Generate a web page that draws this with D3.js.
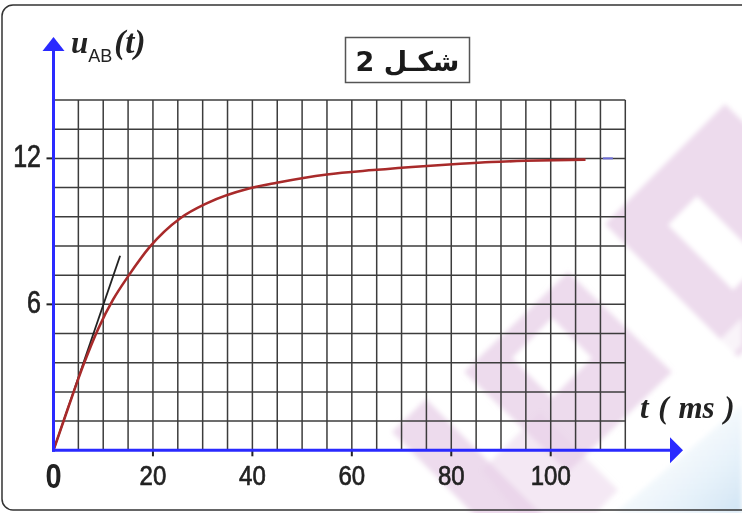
<!DOCTYPE html>
<html>
<head>
<meta charset="utf-8">
<script src="https://cdn.jsdelivr.net/npm/d3@7"></script>
<style>
    body { margin: 0; background: #fff; }
    svg { display: block; }
</style>
</head>
<body>
<svg id="chart"></svg>
<script>
// values
var xTicks = [0, 20, 40, 60, 80, 100];
var yTicks = [6, 12];
var tMax = 115;          // last grid column (ms)
var uMax = 14.4;         // top grid row
var gridStepT = 5;
var gridStepU = 1.2;
var curveT = [0, 3, 6, 9, 12, 15, 19.4, 25.5, 30.8, 39.5, 44.9, 55, 64.3, 75.1, 81.8, 88, 95, 107];
var curveU = [0, 1.78, 3.5, 5.0, 6.2, 7.15, 8.37, 9.54, 10.15, 10.77, 11.0, 11.34, 11.52, 11.69, 11.78, 11.85, 11.9, 11.95];
var tangentT = [0, 13.4];
var tangentU = [0, 8.0];
var asymT = [110.5, 112.5];
var asymU = [12, 12];

var width = 742, height = 513;
var svg = d3.select("#chart").attr("width", width).attr("height", height);

var x = d3.scaleLinear().domain([0, tMax]).range([53.5, 625.3]);
var y = d3.scaleLinear().domain([0, uMax]).range([450.3, 100]);

var blue = "#2a2aff";

draw_background();
draw_grid();
draw_curves();
draw_axes();
draw_labels();

function draw_background() {
    var defs = svg.append("defs");
    var grad = defs.append("linearGradient")
        .attr("id", "blueCorner")
        .attr("x1", "0%").attr("y1", "0%")
        .attr("x2", "100%").attr("y2", "100%");
    grad.append("stop").attr("offset", "0%").style("stop-color", "#ffffff").style("stop-opacity", 0);
    grad.append("stop").attr("offset", "100%").style("stop-color", "#cfe4f4");
    defs.append("filter")
        .attr("id", "soft")
        .append("feGaussianBlur")
        .attr("stdDeviation", 2.5);

    var g = svg.append("g").attr("class", "watermark").attr("filter", "url(#soft)");
    var pink = "#e9d2e9";
    // bottom-right light blue corner
    g.append("path").attr("d", "M742,405 L742,513 L615,513 Z").attr("fill", "url(#blueCorner)");
    // diamond frame in the middle
    g.append("path")
        .attr("d", "M568,272 L672,372 L568,472 L464,372 Z M552,318 L592,358 L552,398 L512,358 Z")
        .attr("fill", pink).attr("fill-rule", "evenodd").attr("opacity", 0.8);
    // lower-left band
    g.append("path")
        .attr("d", "M392,432 L426,399 L575,548 L541,582 Z")
        .attr("fill", pink).attr("opacity", 0.8);
    g.append("path")
        .attr("d", "M482,470 L540,412 L618,490 L596,513 L518,513 Z")
        .attr("fill", pink).attr("opacity", 0.5);
    // top-right frame
    g.append("path")
        .attr("d", "M605,224 L725,104 L860,237 L738,357 Z M668,225 L697,196 L762,261 L733,290 Z")
        .attr("fill", pink).attr("fill-rule", "evenodd").attr("opacity", 0.8);
    // soft white diagonal sheen
    g.append("path")
        .attr("d", "M660,400 L742,318 L742,345 L672,413 Z")
        .attr("fill", "#ffffff").attr("opacity", 0.7);

    // outer frame
    svg.append("rect")
        .attr("x", 2).attr("y", 5)
        .attr("width", 800).attr("height", 505)
        .attr("rx", 11)
        .attr("fill", "none")
        .attr("stroke", "#333")
        .attr("stroke-width", 1.5);
}

function draw_grid() {
    var g = svg.append("g").attr("class", "grid");
    var colsT = d3.range(gridStepT, tMax + 0.01, gridStepT);
    var rowsU = d3.range(1, Math.round(uMax / gridStepU) + 1).map(function (k) { return k * gridStepU; });
    g.selectAll(".vline")
        .data(colsT)
        .enter()
        .append("line")
        .attr("class", "vline")
        .attr("x1", function (d) { return x(d); })
        .attr("x2", function (d) { return x(d); })
        .attr("y1", y(0))
        .attr("y2", y(uMax))
        .attr("stroke", "#3c3c3c")
        .attr("stroke-width", 1.5);
    g.selectAll(".hline")
        .data(rowsU)
        .enter()
        .append("line")
        .attr("class", "hline")
        .attr("x1", x(0))
        .attr("x2", x(tMax))
        .attr("y1", function (d) { return y(d); })
        .attr("y2", function (d) { return y(d); })
        .attr("stroke", "#3c3c3c")
        .attr("stroke-width", 1.5);
}

function draw_curves() {
    var line = d3.line()
        .x(function (d) { return x(d[0]); })
        .y(function (d) { return y(d[1]); });

    svg.append("path")
        .datum(d3.zip(tangentT, tangentU))
        .attr("d", line)
        .attr("fill", "none")
        .attr("stroke", "#222")
        .attr("stroke-width", 1.8);

    svg.append("path")
        .datum(d3.zip(curveT, curveU))
        .attr("d", line.curve(d3.curveMonotoneX))
        .attr("fill", "none")
        .attr("stroke", "#a82a2a")
        .attr("stroke-width", 2.6);

    svg.append("path")
        .datum(d3.zip(asymT, asymU))
        .attr("d", d3.line().x(function (d) { return x(d[0]); }).y(function (d) { return y(d[1]); }))
        .attr("stroke", "#6c6cd8")
        .attr("stroke-width", 2);
}

function draw_axes() {
    var g = svg.append("g").attr("class", "axes");
    // ticks on t axis
    g.selectAll(".xtick")
        .data(xTicks.filter(function (d) { return d > 0; }))
        .enter()
        .append("line")
        .attr("x1", function (d) { return x(d); })
        .attr("x2", function (d) { return x(d); })
        .attr("y1", y(0))
        .attr("y2", y(0) + 6)
        .attr("stroke", "#222")
        .attr("stroke-width", 2);
    // ticks on u axis
    g.selectAll(".ytick")
        .data(yTicks)
        .enter()
        .append("line")
        .attr("x1", x(0) - 7)
        .attr("x2", x(0))
        .attr("y1", function (d) { return y(d); })
        .attr("y2", function (d) { return y(d); })
        .attr("stroke", "#222")
        .attr("stroke-width", 2);

    // axis lines with arrows
    var x0 = x(0), y0 = y(0);
    g.append("line")
        .attr("x1", x0 - 1.5).attr("x2", 672)
        .attr("y1", y0).attr("y2", y0)
        .attr("stroke", blue).attr("stroke-width", 3);
    g.append("path")
        .attr("d", "M670," + (y0 - 13) + " L683," + y0 + " L670," + (y0 + 13) + " Z")
        .attr("fill", blue);
    g.append("line")
        .attr("x1", x0).attr("x2", x0)
        .attr("y1", y0 + 1.5).attr("y2", 50)
        .attr("stroke", blue).attr("stroke-width", 3);
    g.append("path")
        .attr("d", "M" + (x0 - 11) + ",51 L" + x0 + ",37 L" + (x0 + 11) + ",51 Z")
        .attr("fill", blue);
}

function draw_labels() {
    var g = svg.append("g").attr("class", "labels")
        .style("font-family", "'Liberation Sans', Arial, sans-serif")
        .style("fill", "#222");

    g.selectAll(".xlabel")
        .data(xTicks)
        .enter()
        .append("text")
        .attr("transform", function (d) {
            return "translate(" + x(d) + "," + (d === 0 ? 488 : 485) + ") scale(1,1.18)";
        })
        .attr("text-anchor", "middle")
        .style("font-size", function (d) { return d === 0 ? "29px" : "24px"; })
        .style("font-weight", function (d) { return d === 0 ? "bold" : "normal"; })
        .style("stroke", "#222")
        .style("stroke-width", function (d) { return d === 0 ? 0 : 0.6; })
        .text(function (d) { return d; });

    g.selectAll(".ylabel")
        .data(yTicks)
        .enter()
        .append("text")
        .attr("transform", function (d) { return "translate(41," + (y(d) + 9) + ") scale(1,1.22)"; })
        .attr("text-anchor", "end")
        .style("font-size", "25px")
        .style("stroke", "#222")
        .style("stroke-width", 0.6)
        .text(function (d) { return d; });

    // axis names
    var uLabel = svg.append("text")
        .attr("x", 71).attr("y", 53)
        .style("font-family", "'Liberation Serif', 'Times New Roman', serif")
        .style("font-style", "italic")
        .style("font-weight", "bold")
        .style("font-size", "31px")
        .style("fill", "#222");
    uLabel.append("tspan").text("u");
    uLabel.append("tspan")
        .attr("dy", 9)
        .style("font-family", "'Liberation Sans', Arial, sans-serif")
        .style("font-style", "normal")
        .style("font-weight", "normal")
        .style("font-size", "18px")
        .text("AB");
    uLabel.append("tspan").attr("dy", -9).attr("dx", 2).style("font-size", "33px").text("(t)");

    svg.append("text")
        .attr("x", 640).attr("y", 418)
        .style("font-family", "'Liberation Serif', 'Times New Roman', serif")
        .style("font-style", "italic")
        .style("font-weight", "bold")
        .style("font-size", "31px")
        .style("word-spacing", "2px")
        .style("fill", "#222")
        .attr("xml:space", "preserve")
        .text("t ( ms )");

    // figure title box
    var tg = svg.append("g").attr("class", "title");
    tg.append("rect")
        .attr("x", 345.5).attr("y", 37.5)
        .attr("width", 124).attr("height", 45)
        .attr("fill", "#fff")
        .attr("stroke", "#555")
        .attr("stroke-width", 1.5);
    tg.append("text")
        .attr("x", 407.5).attr("y", 71)
        .attr("text-anchor", "middle")
        .attr("direction", "rtl")
        .style("font-family", "'DejaVu Sans', sans-serif")
        .style("font-weight", "bold")
        .style("font-size", "27px")
        .style("fill", "#1a1a1a")
        .text("شكـل 2");
}
</script>
</body>
</html>
